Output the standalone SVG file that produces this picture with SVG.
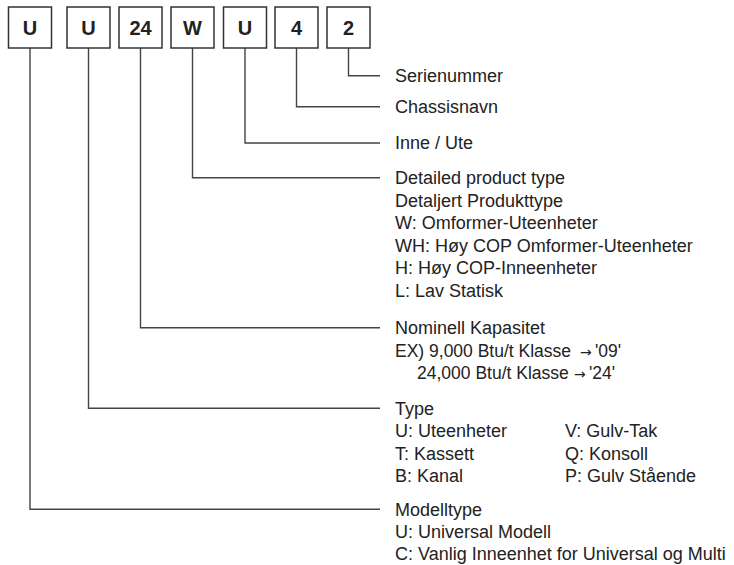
<svg xmlns="http://www.w3.org/2000/svg" width="734" height="565" viewBox="0 0 734 565">
<style>
.box{fill:#fff;stroke:#333;stroke-width:1.5}
.bt{font-family:"Liberation Sans",Arial,sans-serif;font-weight:bold;font-size:20px;fill:#222;text-anchor:middle}
.con{fill:none;stroke:#444;stroke-width:1.4}
.t{font-family:"Liberation Sans",Arial,sans-serif;font-size:18px;fill:#222}
.s{font-size:17.5px}
.ar{font-family:"DejaVu Sans",sans-serif;font-size:14px}
</style>
<rect width="734" height="565" fill="#fff"/>
<g id="connectors">
<polyline class="con" points="348.5,48 348.5,75.7 380,75.7"/>
<polyline class="con" points="296.5,48 296.5,106.7 380,106.7"/>
<polyline class="con" points="245,48 245,143 380,143"/>
<polyline class="con" points="192.5,48 192.5,177.7 380,177.7"/>
<polyline class="con" points="140.5,48 140.5,327.7 380,327.7"/>
<polyline class="con" points="88.5,48 88.5,408.3 380,408.3"/>
<polyline class="con" points="30,48 30,509.3 380,509.3"/>
</g>
<g id="box1"><rect class="box" x="8.5" y="7" width="43" height="41"/><text class="bt" x="30" y="35">U</text></g>
<g id="box2"><rect class="box" x="67" y="7" width="43" height="41"/><text class="bt" x="88.5" y="35">U</text></g>
<g id="box3"><rect class="box" x="119" y="7" width="43" height="41"/><text class="bt" x="140.5" y="35">24</text></g>
<g id="box4"><rect class="box" x="171" y="7" width="43" height="41"/><text class="bt" x="192.5" y="35">W</text></g>
<g id="box5"><rect class="box" x="223.5" y="7" width="43" height="41"/><text class="bt" x="245" y="35">U</text></g>
<g id="box6"><rect class="box" x="275" y="7" width="43" height="41"/><text class="bt" x="296.5" y="35">4</text></g>
<g id="box7"><rect class="box" x="327" y="7" width="43" height="41"/><text class="bt" x="348.5" y="35">2</text></g>
<g id="label-serienummer"><text class="t" x="395" y="82">Serienummer</text></g>
<g id="label-chassisnavn"><text class="t" x="395" y="113">Chassisnavn</text></g>
<g id="label-inne-ute"><text class="t" x="395" y="149">Inne / Ute</text></g>
<g id="label-detailed" class="t">
<text x="395" y="184">Detailed product type</text>
<text x="395" y="206.5">Detaljert Produkttype</text>
<text x="395" y="229">W: Omformer-Uteenheter</text>
<text x="395" y="251.5">WH: Høy COP Omformer-Uteenheter</text>
<text x="395" y="274">H: Høy COP-Inneenheter</text>
<text x="395" y="296.5">L: Lav Statisk</text>
</g>
<g id="label-kapasitet" class="t">
<text x="395" y="334">Nominell Kapasitet</text>
<text class="s" x="395" y="356.5">EX) 9,000 Btu/t Klasse<tspan class="ar" x="580">→</tspan><tspan x="595">'09'</tspan></text>
<text class="s" x="417" y="379">24,000 Btu/t Klasse<tspan class="ar" x="574">→</tspan><tspan x="589">'24'</tspan></text>
</g>
<g id="label-type" class="t">
<text x="395" y="414.5">Type</text>
<text x="395" y="437">U: Uteenheter</text>
<text x="395" y="459.5">T: Kassett</text>
<text x="395" y="482">B: Kanal</text>
<text x="565" y="437">V: Gulv-Tak</text>
<text x="565" y="459.5">Q: Konsoll</text>
<text x="565" y="482">P: Gulv Stående</text>
</g>
<g id="label-modelltype" class="t">
<text x="395" y="515.5">Modelltype</text>
<text x="395" y="538">U: Universal Modell</text>
<text x="395" y="560">C: Vanlig Inneenhet for Universal og Multi</text>
</g>
</svg>
